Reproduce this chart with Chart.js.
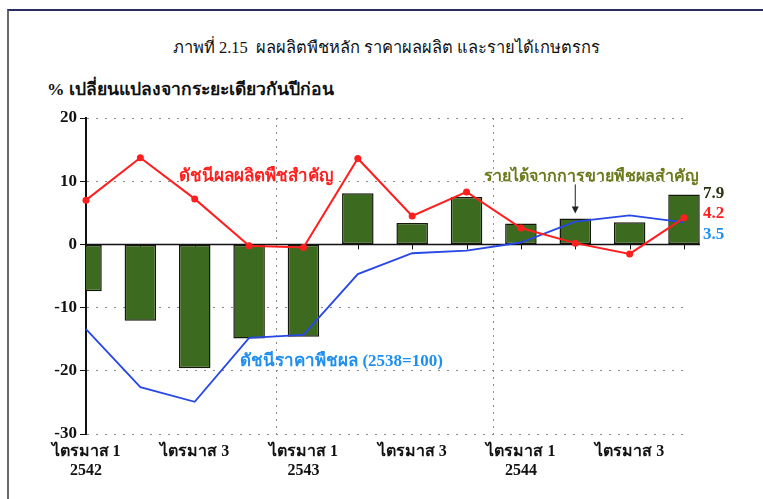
<!DOCTYPE html>
<html lang="th">

<head>
    <meta charset="UTF-8">
    <title>ภาพที่ 2.15</title>
    <script src="https://cdn.jsdelivr.net/npm/chart.js"></script>
    <style>
        body {
            margin: 0;
            background: #fff;
        }

        .page {
            position: relative;
            width: 763px;
            height: 499px;
            overflow: hidden;
        }

        .frame {
            position: absolute;
            left: 7px;
            top: 9px;
            width: 800px;
            height: 520px;
            border-top: 2px solid #2b2b66;
            border-left: 2px solid #6a6a6a;
        }

        h1 {
            position: absolute;
            top: 34px;
            left: 0;
            width: 773px;
            margin: 0;
            text-align: center;
            font: 16.5px "Liberation Serif", serif;
            color: #111;
        }

        .unit {
            position: absolute;
            left: 47px;
            top: 75px;
            font: bold 17.5px "Liberation Serif", serif;
            color: #111;
        }

        canvas {
            position: absolute;
            left: 0;
            top: 0;
        }
    </style>
</head>

<body>
    <div class="page">
        <div class="frame"></div>
        <h1>ภาพที่ 2.15&nbsp; ผลผลิตพืชหลัก ราคาผลผลิต และรายได้เกษตรกร</h1>
        <div class="unit">% เปลี่ยนแปลงจากระยะเดียวกันปีก่อน</div>
        <canvas id="grafico" width="763" height="499"></canvas>
    </div>
    <script>
        const quarters = ['ไตรมาส 1', 'ไตรมาส 2', 'ไตรมาส 3', 'ไตรมาส 4',
            'ไตรมาส 1', 'ไตรมาส 2', 'ไตรมาส 3', 'ไตรมาส 4',
            'ไตรมาส 1', 'ไตรมาส 2', 'ไตรมาส 3', 'ไตรมาส 4'];
        const years = ['2542', '', '', '', '2543', '', '', '', '2544', '', '', ''];

        // รายได้จากการขายพืชผลสำคัญ (แท่ง)
        const farmIncome = [-7.4, -12.1, -19.6, -14.9, -14.6, 8.1, 3.4, 7.5, 3.3, 4.1, 3.5, 7.9];
        // ดัชนีผลผลิตพืชสำคัญ
        const cropOutput = [7.0, 13.7, 7.2, -0.2, -0.5, 13.6, 4.5, 8.3, 2.6, 0.2, -1.5, 4.2];
        // ดัชนีราคาพืชผล (2538=100)
        const cropPrice = [-13.4, -22.6, -24.9, -14.8, -14.3, -4.7, -1.4, -1.0, 0.3, 3.6, 4.6, 3.5];

        const yTicks = [20, 10, 0, -10, -20, -30];

        const GREEN = '#3c6a1f';
        const RED = '#ff1f1f';
        const BLUE = '#2747e6';
        const LIGHT_BLUE = '#1f8fef';
        const OLIVE = '#6b7a1c';
        const numFont = '"Liberation Serif", serif';

        // เส้นศูนย์ ขีดแกน x และข้อความกำกับเส้น
        const annotate = {
            id: 'annotate',
            beforeDatasetsDraw(chart) {
                const { ctx, scales: { x, y } } = chart;
                const y0 = y.getPixelForValue(0);
                ctx.save();
                ctx.strokeStyle = '#111';
                ctx.lineWidth = 1.5;
                ctx.beginPath();
                ctx.moveTo(x.left, y0);
                ctx.lineTo(x.getPixelForValue(quarters.length - 1) + 16, y0);
                ctx.stroke();
                ctx.lineWidth = 1;
                quarters.forEach((q, i) => {
                    const px = Math.round(x.getPixelForValue(i)) + 0.5;
                    ctx.beginPath();
                    ctx.moveTo(px, y0);
                    ctx.lineTo(px, y0 + 5);
                    ctx.stroke();
                });
                ctx.restore();
            },
            afterDatasetsDraw(chart) {
                const { ctx, scales: { x, y } } = chart;
                const last = quarters.length - 1;
                ctx.save();
                ctx.textBaseline = 'middle';
                ctx.textAlign = 'center';

                ctx.font = 'bold 17px ' + numFont;
                ctx.fillStyle = RED;
                ctx.fillText('ดัชนีผลผลิตพืชสำคัญ', x.getPixelForValue(3.12), y.getPixelForValue(10.7));
                ctx.font = 'bold 16px ' + numFont;
                ctx.fillStyle = OLIVE;
                ctx.fillText('รายได้จากการขายพืชผลสำคัญ', x.getPixelForValue(9.3), y.getPixelForValue(10.7));
                ctx.font = 'bold 17px ' + numFont;
                ctx.fillStyle = LIGHT_BLUE;
                ctx.fillText('ดัชนีราคาพืชผล (2538=100)', x.getPixelForValue(4.7), y.getPixelForValue(-18.6));

                // ลูกศรชี้แท่งรายได้
                const ax = x.getPixelForValue(9);
                const aTop = y.getPixelForValue(9.5);
                const aTip = y.getPixelForValue(4.9);
                ctx.strokeStyle = '#222';
                ctx.fillStyle = '#222';
                ctx.lineWidth = 1;
                ctx.beginPath();
                ctx.moveTo(ax, aTop);
                ctx.lineTo(ax, aTip - 6);
                ctx.stroke();
                ctx.beginPath();
                ctx.moveTo(ax - 3.5, aTip - 7);
                ctx.lineTo(ax + 3.5, aTip - 7);
                ctx.lineTo(ax, aTip);
                ctx.closePath();
                ctx.fill();

                // ค่าล่าสุด
                ctx.textAlign = 'left';
                ctx.font = 'bold 17px ' + numFont;
                const lx = x.getPixelForValue(last) + 19;
                ctx.fillStyle = '#2a3312';
                ctx.fillText(farmIncome[last].toFixed(1), lx, y.getPixelForValue(8.1));
                ctx.fillStyle = RED;
                ctx.fillText(cropOutput[last].toFixed(1), lx, y.getPixelForValue(4.9));
                ctx.fillStyle = LIGHT_BLUE;
                ctx.fillText(cropPrice[last].toFixed(1), lx, y.getPixelForValue(1.6));
                ctx.restore();
            }
        };

        new Chart(document.getElementById('grafico'), {
            type: 'bar',
            data: {
                labels: quarters,
                datasets: [
                    {
                        type: 'line',
                        label: 'ดัชนีผลผลิตพืชสำคัญ',
                        data: cropOutput,
                        borderColor: RED,
                        backgroundColor: RED,
                        borderWidth: 2,
                        pointRadius: 3.5,
                        pointBorderWidth: 0,
                        tension: 0,
                        order: 0
                    },
                    {
                        type: 'line',
                        label: 'ดัชนีราคาพืชผล (2538=100)',
                        data: cropPrice,
                        borderColor: BLUE,
                        borderWidth: 1.8,
                        pointRadius: 0,
                        tension: 0,
                        order: 1
                    },
                    {
                        label: 'รายได้จากการขายพืชผลสำคัญ',
                        data: farmIncome,
                        backgroundColor: GREEN,
                        borderColor: '#15180a',
                        borderWidth: 1.5,
                        borderSkipped: false,
                        barPercentage: 0.58,
                        categoryPercentage: 1,
                        clip: { left: 0, top: false, right: false, bottom: false },
                        order: 2
                    }
                ]
            },
            options: {
                responsive: false,
                animation: false,
                layout: { padding: { left: 0, top: 118, right: 79, bottom: 10 } },
                plugins: {
                    legend: { display: false },
                    tooltip: { enabled: false }
                },
                scales: {
                    x: {
                        type: 'category',
                        offset: false,
                        afterFit(scale) { scale.height = 55; },
                        grid: {
                            offset: true,
                            drawTicks: false,
                            color: ctx => (ctx.index === 4 || ctx.index === 8) ? '#8a8a8a' : 'rgba(0,0,0,0)'
                        },
                        border: { display: false, dash: [2, 5] },
                        ticks: {
                            autoSkip: false,
                            maxRotation: 0,
                            padding: 8,
                            color: '#111',
                            font: { family: numFont, size: 16, weight: 'bold' },
                            callback: (v, i) => i % 2 === 0 ? (years[i] ? [quarters[i], years[i]] : quarters[i]) : ''
                        }
                    },
                    y: {
                        min: -30,
                        max: 20,
                        afterFit(scale) { scale.width = 86; },
                        afterBuildTicks(scale) { scale.ticks = yTicks.map(v => ({ value: v })); },
                        grid: {
                            color: ctx => ctx.tick && ctx.tick.value === 0 ? 'rgba(0,0,0,0)' : '#8a8a8a',
                            tickColor: '#111',
                            tickLength: 6
                        },
                        border: {
                            display: true,
                            color: '#111',
                            width: 2,
                            dash: ctx => ctx.type === 'tick' ? [2, 7] : []
                        },
                        ticks: {
                            padding: 3,
                            color: '#111',
                            font: { family: numFont, size: 17, weight: 'bold' }
                        }
                    }
                }
            },
            plugins: [annotate]
        });
    </script>
</body>

</html>
